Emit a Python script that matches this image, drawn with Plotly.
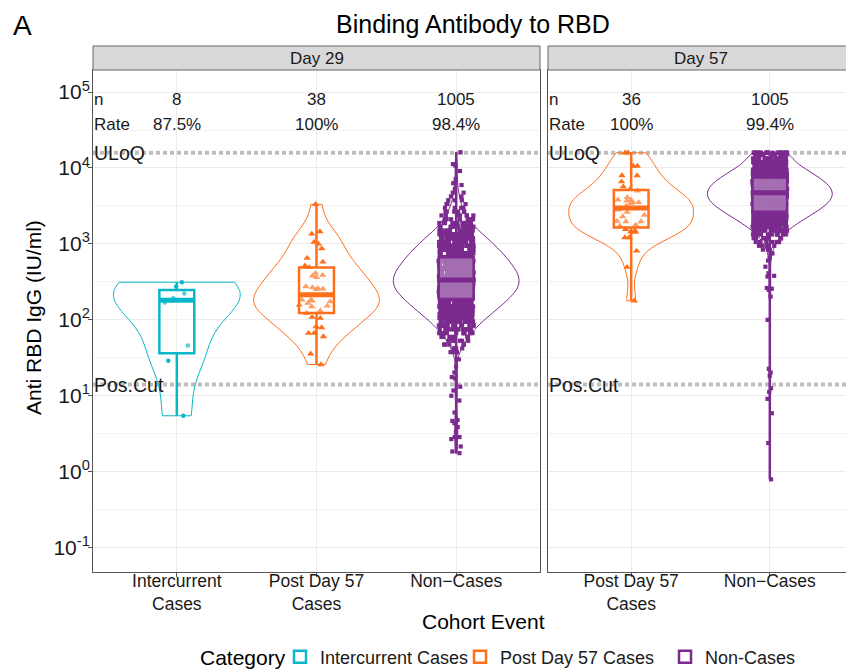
import numpy as np
import plotly.graph_objects as go
from plotly.subplots import make_subplots

# ---------------- data (log10 of Anti RBD IgG, IU/ml) ----------------
categories = ["Intercurrent Cases", "Post Day 57 Cases", "Non-Cases"]
tick_text_d29 = ["Intercurrent<br>Cases", "Post Day 57<br>Cases", "Non\u2212Cases"]
tick_text_d57 = ["Post Day 57<br>Cases", "Non\u2212Cases"]
panels = ["Day 29", "Day 57"]
y_tick_vals = [-1, 0, 1, 2, 3, 4, 5]
y_tick_text = ["10<sup>-1</sup>", "10<sup>0</sup>", "10<sup>1</sup>", "10<sup>2</sup>",
               "10<sup>3</sup>", "10<sup>4</sup>", "10<sup>5</sup>"]

uloq = 15850.0      # upper limit of quantification (IU/ml)
pos_cut = 14.08     # positivity cut-off (IU/ml)

d29_intercurrent = [0.737, 1.461, 1.662, 2.228, 2.286, 2.346, 2.438, 2.496]

d29_post57 = [3.522, 3.162, 3.132, 3.022, 3.0, 2.938, 2.812, 2.763, 2.711, 2.69,
              2.614, 2.579, 2.588, 2.56, 2.438, 2.412, 2.425, 2.408, 2.40, 2.263,
              2.25, 2.263, 2.241, 2.219, 2.184, 2.175, 2.197, 2.12, 2.022, 2.035,
              2.09, 1.912, 1.899, 1.825, 1.825, 1.78, 1.553, 1.412]

# Day 29 non-cases: dense core read as counts per 0.05-log10 bin, plus sparse tails
d29_noncase_bins = [1.575, 1.625, 1.675, 1.725, 1.775, 1.825, 1.875, 1.925, 1.975, 2.025,
                    2.075, 2.125, 2.175, 2.225, 2.275, 2.325, 2.375, 2.425, 2.475, 2.525,
                    2.575, 2.625, 2.675, 2.725, 2.775, 2.825, 2.875, 2.925, 2.975, 3.025,
                    3.075, 3.125, 3.175, 3.225, 3.275, 3.325, 3.375, 3.425, 3.475, 3.525,
                    3.575, 3.625, 3.675, 3.725, 3.775]
d29_noncase_counts = [3, 4, 5, 6, 8, 11, 13, 16, 18, 22,
                      25, 29, 32, 35, 38, 41, 44, 46, 47, 46,
                      46, 45, 44, 40, 37, 38, 34, 31, 28, 26,
                      23, 20, 15, 13, 11, 9, 7, 6, 4, 3,
                      3, 2, 2, 1, 1]
d29_noncase_tail = [0.245, 0.267, 0.333, 0.43, 0.457, 0.457, 0.522, 0.588, 0.64, 0.67,
                    0.68, 0.78, 0.938, 1.0, 1.07, 1.12, 1.23, 1.246, 1.307, 1.386,
                    1.48, 3.80, 3.85, 3.96, 4.03, 4.05, 4.207]

d57_post57 = [4.2, 4.2, 4.026, 4.026, 3.90, 3.90, 3.82, 3.754, 3.72, 3.70,
              3.614, 3.58, 3.58, 3.566, 3.546, 3.546, 3.535, 3.50, 3.447, 3.42,
              3.38, 3.36, 3.30, 3.294, 3.294, 3.25, 3.237, 3.193, 3.175, 3.162,
              3.154, 3.083, 3.083, 2.908, 2.693, 2.25]

d57_noncase_bins = [2.875, 2.925, 2.975, 3.025, 3.075, 3.125, 3.175, 3.225, 3.275, 3.325,
                    3.375, 3.425, 3.475, 3.525, 3.575, 3.625, 3.675, 3.725, 3.775, 3.825,
                    3.875, 3.925, 3.975, 4.025, 4.075, 4.125, 4.175, 4.2]
d57_noncase_counts = [2, 3, 5, 7, 10, 13, 18, 23, 29, 35,
                      42, 48, 55, 60, 64, 66, 66, 65, 62, 57,
                      51, 45, 38, 32, 25, 20, 15, 29]
d57_noncase_tail = [-0.1, 0.378, 0.77, 0.96, 1.05, 1.1, 1.263, 1.307, 1.355, 2.0,
                    2.307, 2.395, 2.41, 2.42, 2.57, 2.58, 2.614, 2.7, 2.78, 2.81]

colors = {"Intercurrent Cases": "#0AB7C9", "Post Day 57 Cases": "#FF6F1B", "Non-Cases": "#7B2A8E"}
symbols = {"Intercurrent Cases": "circle", "Post Day 57 Cases": "triangle-up", "Non-Cases": "square"}
msizes = {"Intercurrent Cases": 4.5, "Post Day 57 Cases": 6.5, "Non-Cases": 4.2}
legend_ids = {"Intercurrent Cases": "legend", "Post Day 57 Cases": "legend2", "Non-Cases": "legend3"}

d29_noncase = list(np.repeat(d29_noncase_bins, d29_noncase_counts)) + d29_noncase_tail
d57_noncase = list(np.repeat(d57_noncase_bins, d57_noncase_counts)) + d57_noncase_tail

groups = {
    1: [("Intercurrent Cases", d29_intercurrent), ("Post Day 57 Cases", d29_post57),
        ("Non-Cases", d29_noncase)],
    2: [("Post Day 57 Cases", d57_post57), ("Non-Cases", d57_noncase)],
}

log_uloq = np.log10(uloq)
log_pos = np.log10(pos_cut)


def bw_nrd0(v):
    v = np.asarray(v, float)
    sd = np.std(v, ddof=1)
    iqr = np.subtract(*np.percentile(v, [75, 25]))
    lo = min(sd, iqr / 1.34) if iqr > 0 else sd
    return 0.9 * lo * len(v) ** (-0.2)


FONT = "Liberation Sans, Arial, Helvetica, sans-serif"
TXT = "#1a1a1a"

# ---- geometry: the page body adds an 8px offset, so the figure is drawn 8px smaller ----
OFF = 8
FW, FH = 854 - OFF, 671 - OFF
L, R, T = 93 - OFF, 1, 70 - OFF
B = FH - (572 - OFF)
W = FW - L - R
H = FH - T - B


def px(xs):   # screen x -> paper x
    return (xs - OFF - L) / W


def py(ys):   # screen y -> paper y
    return (572 - ys) / H


d1 = [0, 447 / W]
d2 = [455 / W, 1]
strip_h = 24 / H

fig = make_subplots(rows=1, cols=2)

shapes = []
annotations = []
for col, glist in groups.items():
    xref = "x" if col == 1 else "x2"
    yr = "y" if col == 1 else "y2"
    xd = "x domain" if col == 1 else "x2 domain"
    for yv in (log_uloq, log_pos):
        shapes.append(dict(type="line", xref=xd, yref=yr, x0=0, x1=1, y0=yv, y1=yv,
                           line=dict(color="#bdbdbd", width=4, dash="4px,3px"),
                           layer="below"))
    for pos, (cat, vals) in enumerate(glist):
        vals = np.asarray(vals, float)
        c = colors[cat]
        xs = [pos] * len(vals)
        fig.add_trace(go.Violin(
            x=xs, y=vals, width=0.9, scalemode="width", spanmode="hard",
            bandwidth=bw_nrd0(vals), points=False, box_visible=False,
            meanline_visible=False, line=dict(color=c, width=1),
            fillcolor="rgba(0,0,0,0)", showlegend=False, hoverinfo="skip",
            name=cat), row=1, col=col)
        fig.add_trace(go.Box(
            x=xs, y=vals, boxpoints="all", jitter=1, pointpos=0, width=0.25,
            whiskerwidth=0, line=dict(color="rgba(0,0,0,0)", width=0),
            fillcolor="rgba(0,0,0,0)",
            marker=dict(symbol=symbols[cat], size=msizes[cat], color=c),
            showlegend=False, hoverinfo="skip", name=cat), row=1, col=col)
        fig.add_trace(go.Box(
            x=xs, y=vals, boxpoints=False, width=0.25, whiskerwidth=0,
            line=dict(color=c, width=2.5), fillcolor="rgba(255,255,255,0.32)",
            name=cat, legend=legend_ids[cat], showlegend=(col == 1), hoverinfo="skip"),
            row=1, col=col)
        med = float(np.median(vals))
        shapes.append(dict(type="line", xref=xref, yref=yr,
                           x0=pos - 0.125, x1=pos + 0.125, y0=med, y1=med,
                           line=dict(color=c, width=5), layer="above"))
        n = len(vals)
        rate = 100.0 * np.sum(vals > log_pos) / n
        rate_s = f"{rate:.1f}".rstrip("0").rstrip(".") + "%"
        annotations.append(dict(x=pos, y=4.908, xref=xref, yref=yr, text=str(n),
                                yanchor="middle", showarrow=False,
                                font=dict(size=17, color=TXT)))
        annotations.append(dict(x=pos, y=4.579, xref=xref, yref=yr, text=rate_s,
                                yanchor="middle", showarrow=False,
                                font=dict(size=17, color=TXT)))
    for txt, yv, fs in [("n", 4.908, 17), ("Rate", 4.579, 17),
                        ("ULoQ", log_uloq, 19.5), ("Pos.Cut", log_pos, 19.5)]:
        annotations.append(dict(x=0, y=yv, xref=xd, yref=yr, text=txt, xanchor="left",
                                yanchor="middle", xshift=-1, showarrow=False,
                                font=dict(size=fs, color=TXT)))

for dom, label in [(d1, panels[0]), (d2, panels[1])]:
    shapes.append(dict(type="rect", xref="paper", yref="paper", x0=dom[0], x1=dom[1],
                       y0=1, y1=1 + strip_h, fillcolor="#d9d9d9",
                       line=dict(color="#666666", width=1), layer="above"))
    annotations.append(dict(x=(dom[0] + dom[1]) / 2, y=1 + strip_h / 2, xref="paper",
                            yref="paper", text=label, showarrow=False,
                            xanchor="center", yanchor="middle",
                            font=dict(size=17, color=TXT)))

annotations += [
    dict(x=0.5, y=py(24), xref="paper", yref="paper", text="Binding Antibody to RBD",
         showarrow=False, xanchor="center", yanchor="middle",
         font=dict(size=25, color="black")),
    dict(x=px(11), y=py(8), xref="paper", yref="paper", text="A",
         showarrow=False, xanchor="left", yanchor="top",
         font=dict(size=28, color="black")),
    dict(x=px(33), y=py(318), xref="paper", yref="paper",
         text="Anti RBD IgG (IU/ml)", textangle=-90, showarrow=False,
         xanchor="center", yanchor="middle", font=dict(size=21, color="black")),
    dict(x=px(483), y=py(621), xref="paper", yref="paper",
         text="Cohort Event", showarrow=False, xanchor="center", yanchor="middle",
         font=dict(size=21, color="black")),
    dict(x=px(198), y=py(657), xref="paper", yref="paper",
         text="Category", showarrow=False, xanchor="left", yanchor="middle",
         font=dict(size=21, color="black")),
]

axis_common = dict(showline=True, mirror=True, linecolor="#555555", linewidth=1,
                   gridcolor="#ebebeb", gridwidth=1, zeroline=False,
                   ticks="outside", ticklen=4, tickcolor="#555555", automargin=False)

leg_common = dict(orientation="h", yanchor="middle", y=py(657), xanchor="left",
                  font=dict(size=18, color=TXT), itemwidth=30, bgcolor="rgba(0,0,0,0)")

fig.update_layout(
    width=FW, height=FH, margin=dict(l=L, r=R, t=T, b=B, autoexpand=False),
    plot_bgcolor="white", paper_bgcolor="white",
    font=dict(family=FONT, color=TXT),
    violinmode="overlay", boxmode="overlay",
    shapes=shapes, annotations=annotations,
    showlegend=True,
    legend=dict(x=px(280), **leg_common),
    legend2=dict(x=px(460), **leg_common),
    legend3=dict(x=px(665), **leg_common),
    xaxis=dict(domain=d1, range=[-0.6, 2.6], tickvals=[0, 1, 2], ticktext=tick_text_d29,
               tickfont=dict(size=17.5, color=TXT), ticklabelstandoff=-11, **axis_common),
    xaxis2=dict(domain=d2, range=[-0.6, 1.6], tickvals=[0, 1], ticktext=tick_text_d57,
                tickfont=dict(size=17.5, color=TXT), ticklabelstandoff=-11, **axis_common),
    yaxis=dict(range=[-1.32, 5.29], tickvals=y_tick_vals, ticktext=y_tick_text,
               tickfont=dict(size=21, color=TXT), ticklabelstandoff=-6,
               minor=dict(tickvals=[-0.5, 0.5, 1.5, 2.5, 3.5, 4.5], showgrid=True,
                          gridcolor="#f2f2f2", ticks=""),
               **axis_common),
    yaxis2=dict(range=[-1.32, 5.29], tickvals=y_tick_vals, showticklabels=False,
                minor=dict(tickvals=[-0.5, 0.5, 1.5, 2.5, 3.5, 4.5], showgrid=True,
                           gridcolor="#f2f2f2", ticks=""),
                **{**axis_common, "ticks": ""}),
)

fig.write_html("out.html")
